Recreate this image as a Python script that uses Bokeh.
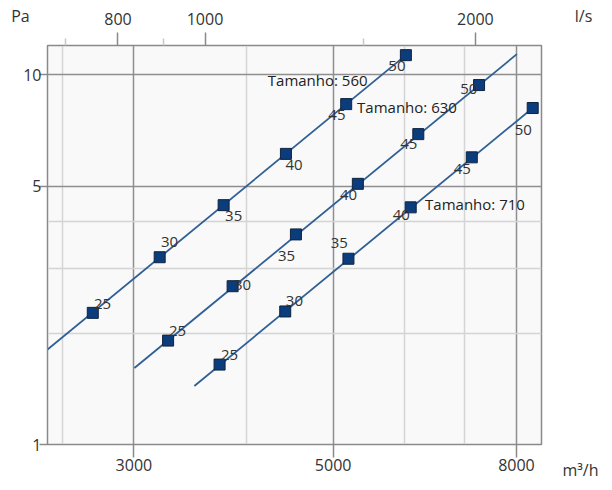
from bokeh.plotting import figure
from bokeh.models import (ColumnDataSource, FixedTicker, LogAxis, LogScale, Range1d,
                          Label, CustomJSTickFormatter)
from bokeh.embed import file_html
from bokeh.resources import INLINE
from bokeh.core.properties import value

# ---------------- data ----------------
speed_labels = ["25", "30", "35", "40", "45", "50"]
q560 = [2700, 3205, 3776, 4430, 5170, 6025]
p560 = [2.27, 3.21, 4.44, 6.11, 8.33, 11.3]
q630 = [3275, 3864, 4545, 5327, 6220, 7268]
p630 = [1.91, 2.68, 3.70, 5.07, 6.91, 9.38]
q710 = [3737, 4422, 5200, 6100, 7134, 8340]
p710 = [1.645, 2.29, 3.18, 4.38, 5.98, 8.13]
line560_q = [2404, 6025]
line560_p = [1.806, 11.3]
line630_q = [3004, 8008]
line630_p = [1.61, 11.37]
line710_q = [3503, 8340]
line710_p = [1.44, 8.13]
size_names = ["Tamanho: 560", "Tamanho: 630", "Tamanho: 710"]
x_ticks = [3000, 5000, 8000]
x_minor = [2500, 4000, 6000, 7000]
y_ticks = [1, 5, 10]
y_minor = [2, 3, 4]
top_ticks = [800, 1000, 2000]
top_minor = [700, 900, 1500]
M3H_PER_LS = 3.6
X_RANGE = (2404, 8530)
Y_RANGE = (1, 12)

# label offsets (screen px, styling only)
off560 = [(9.7, -9.3), (9.9, -14.9), (10, 10.7), (8.1, 10.7), (-9.3, 10.9), (-9, 10.9)]
off630 = [(9.5, -9.5), (9.9, -1.2), (-9.4, 21.5), (-9.4, 10.9), (-9.5, 10.2), (-10.2, 3.5)]
off710 = [(9.9, -9.3), (9.2, -10.2), (-9.1, -16.1), (-9.5, 7.5), (-9.5, 11.6), (-9.4, 21.9)]

FONT = "Open Sans"
LINE_COLOR = "#2f5f95"
MARK_FILL = "#0b3c7c"
MARK_LINE = "#10233f"
TEXT_COLOR = "#333333"

p = figure(width=604, height=482, x_axis_type="log", y_axis_type="log",
           x_range=Range1d(*X_RANGE), y_range=Range1d(*Y_RANGE),
           output_backend="svg", toolbar_location=None,
           min_border_left=47, min_border_right=63, min_border_top=45, min_border_bottom=38)
p.background_fill_color = "#f9f9f9"
p.border_fill_color = "white"
p.outline_line_color = "#8a8a8a"
p.outline_line_width = 1.5

# grids
p.xgrid.ticker = FixedTicker(ticks=x_ticks, minor_ticks=x_minor)
p.ygrid.ticker = FixedTicker(ticks=y_ticks, minor_ticks=y_minor)
for g in (p.xgrid, p.ygrid):
    g.grid_line_color = "#8f8f8f"
    g.grid_line_width = 1.5
    g.minor_grid_line_color = "#d4d4d4"
    g.minor_grid_line_width = 1.5

fmt = CustomJSTickFormatter(code="return String(Math.round(tick));")

# bottom / left axes
xa = p.xaxis[0]
xa.ticker = FixedTicker(ticks=x_ticks)
ya = p.yaxis[0]
ya.ticker = FixedTicker(ticks=y_ticks)
for ax in (xa, ya):
    ax.formatter = fmt
    ax.axis_line_color = "#8a8a8a"
    ax.major_tick_line_color = "#8a8a8a"
    ax.major_tick_line_width = 1.5
    ax.major_tick_in = 0
    ax.minor_tick_line_color = None
    ax.major_label_text_font = FONT
    ax.major_label_text_font_size = "16px"
    ax.major_label_text_color = TEXT_COLOR
xa.major_tick_out = 13
xa.major_label_standoff = 1
ya.major_tick_out = 8
ya.major_label_standoff = -2

# top axis in l/s
p.extra_x_ranges = {"ls": Range1d(X_RANGE[0] / M3H_PER_LS, X_RANGE[1] / M3H_PER_LS)}
p.extra_x_scales = {"ls": LogScale()}
top = LogAxis(x_range_name="ls", ticker=FixedTicker(ticks=top_ticks, minor_ticks=top_minor),
              formatter=fmt)
top.axis_line_color = "#8a8a8a"
top.major_tick_line_color = "#8a8a8a"
top.major_tick_line_width = 1.5
top.minor_tick_line_color = "#c8c8c8"
top.minor_tick_line_width = 1.5
top.major_tick_in = 0
top.minor_tick_in = 0
top.major_tick_out = 13
top.minor_tick_out = 7
top.major_label_standoff = 8
top.major_label_text_font = FONT
top.major_label_text_font_size = "16px"
top.major_label_text_color = TEXT_COLOR
p.add_layout(top, "above")

# lines
for lq, lp in ((line560_q, line560_p), (line630_q, line630_p), (line710_q, line710_p)):
    p.line(lq, lp, line_color=LINE_COLOR, line_width=1.8)

# markers
all_q = q560 + q630 + q710
all_p = p560 + p630 + p710
p.scatter(all_q, all_p, marker="square", size=11, fill_color=MARK_FILL,
          line_color=MARK_LINE, line_width=1)

# point labels
offs = off560 + off630 + off710
lab_src = ColumnDataSource(dict(
    x=all_q, y=all_p, t=speed_labels * 3,
    xo=[o[0] for o in offs], yo=[o[1] for o in offs]))
p.text(x="x", y="y", text="t", x_offset="xo", y_offset="yo", source=lab_src,
       text_align="center", text_baseline="middle", text_font=value(FONT),
       text_font_size="15px", text_color=TEXT_COLOR)

# size labels
size_src = ColumnDataSource(dict(
    x=[q560[4], q630[4], q710[3]], y=[p560[4], p630[4], p710[3]], t=size_names,
    xo=[-28.5, -11.3, 64.3], yo=[-23.8, -26.8, -3.4]))
p.text(x="x", y="y", text="t", x_offset="xo", y_offset="yo", source=size_src,
       text_align="center", text_baseline="middle", text_font=value(FONT),
       text_font_size="15px", text_color="#222222")

# unit labels (placed in side panels so they are not clipped to the frame)
for txt, xx, yy, xo, yo, side in (("Pa", X_RANGE[0], Y_RANGE[1], -27, 30, "left"),
                                  ("l/s", X_RANGE[1], Y_RANGE[1], 42, 30, "right"),
                                  ("m³/h", X_RANGE[1], Y_RANGE[0], 39, -25, "right")):
    p.add_layout(Label(x=xx, y=yy, text=txt, x_offset=xo, y_offset=yo,
                       text_align="center", text_baseline="middle",
                       text_font=FONT, text_font_size="16px", text_color=TEXT_COLOR), side)

open("out.html", "w").write(file_html(p, INLINE))
